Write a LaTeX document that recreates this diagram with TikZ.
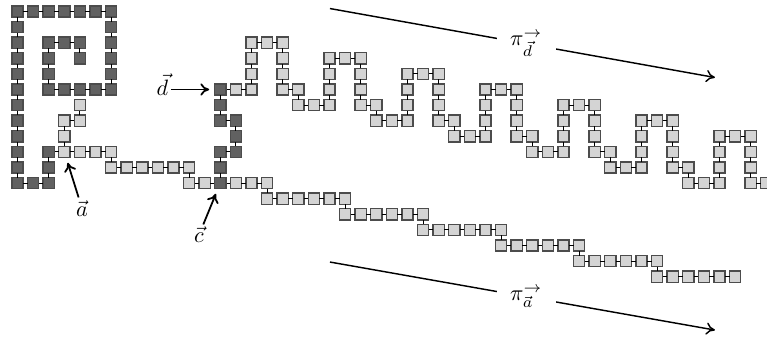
\documentclass[tikz,border=0pt]{standalone}
\usepackage{amsmath}
\usetikzlibrary{arrows.meta}

\definecolor{resborder}{gray}{0.3}
\definecolor{reslight}{gray}{0.83}
\definecolor{resdark}{gray}{0.38}

\newcommand\chain[2]{%
  \foreach \x/\y in {#2} {\node[#1] (r-\x-\y) at (\x,\y) {};}%
  \foreach \x/\y [count=\k, remember=\x as \px (initially 0), remember=\y as \py (initially 0)] in {#2}
    {\ifnum\k>1 \draw[bond] (r-\px-\py) -- (r-\x-\y);\fi}%
}

\begin{document}
\begin{tikzpicture}[x=7.02pt,y=-7.02pt,>={To[length=4pt,width=5.5pt]},
res/.style={draw=resborder,line width=0.6pt,minimum size=5pt,inner sep=0pt,outer sep=0pt},
light/.style={res,fill=reslight},
dark/.style={res,fill=resdark},
bond/.style={line width=0.45pt,draw=black},
pointer/.style={->,line width=0.8pt,shorten >=2.5pt},
pathline/.style={->,line width=0.65pt},
tag/.style={inner sep=1pt},
pilabel/.style={fill=white,inner xsep=6pt,inner ysep=1pt}]
\useasboundingbox (-1.122,-0.737) rectangle (48.045,21.122);
\clip (-1.122,-0.737) rectangle (48.045,21.122);
\chain{light}{3/9,3/8,3/7,4/7,4/6}
\chain{light}{2/9,3/9,4/9,5/9,6/9,6/10,7/10,8/10,9/10,10/10,11/10,11/11,12/11,13/11}
\chain{light}{13/11,14/11,15/11,16/11,16/12,17/12,18/12,19/12,20/12,21/12,21/13,22/13,23/13,24/13,25/13,26/13,
  26/14,27/14,28/14,29/14,30/14,31/14,31/15,32/15,33/15,34/15,35/15,36/15,36/16,37/16,38/16,39/16,40/16,41/16,
  41/17,42/17,43/17,44/17,45/17,46/17}
\chain{light}{13/5,14/5,15/5,15/4,15/3,15/2,16/2,17/2,17/3,17/4,17/5,18/5,18/6,19/6,20/6,20/5,20/4,20/3,21/3,22/3,
  22/4,22/5,22/6,23/6,23/7,24/7,25/7,25/6,25/5,25/4,26/4,27/4,27/5,27/6,27/7,28/7,28/8,29/8,30/8,30/7,30/6,30/5,
  31/5,32/5,32/6,32/7,32/8,33/8,33/9,34/9,35/9,35/8,35/7,35/6,36/6,37/6,37/7,37/8,37/9,38/9,38/10,39/10,40/10,
  40/9,40/8,40/7,41/7,42/7,42/8,42/9,42/10,43/10,43/11,44/11,45/11,45/10,45/9,45/8,46/8,47/8,47/9,47/10,47/11,48/11}
\chain{dark}{4/3,4/2,3/2,2/2,2/3,2/4,2/5,3/5,4/5,5/5,6/5,6/4,6/3,6/2,6/1,6/0,5/0,4/0,3/0,2/0,1/0,0/0,
  0/1,0/2,0/3,0/4,0/5,0/6,0/7,0/8,0/9,0/10,0/11,1/11,2/11,2/10,2/9}
\chain{dark}{13/11,13/10,13/9,14/9,14/8,14/7,13/7,13/6,13/5}
\node[tag] (dlab) at (9.29,4.71) {$\vec{d}$};
\node[tag] (alab) at (4.13,12.60) {$\vec{a}$};
\node[tag] (clab) at (11.63,14.33) {$\vec{c}$};
\draw[pointer] (dlab.east |- r-13-5) -- (r-13-5);
\draw[pointer] (alab) -- (r-3-9);
\draw[pointer] (clab) -- (r-13-11);
\coordinate (pdA) at (20.03,-0.19);
\coordinate (pdB) at (44.71,4.23);
\coordinate (paA) at (20.03,16.06);
\coordinate (paB) at (44.71,20.42);
\draw[pathline] (pdA) -- node[pilabel,pos=0.51] (pdlab) {$\pi^{\rightarrow}_{\vec{d}}$} (pdB);
\draw[pathline] (paA) -- node[pilabel,pos=0.51] (palab) {$\pi^{\rightarrow}_{\vec{a}}$} (paB);
\end{tikzpicture}
\end{document}
